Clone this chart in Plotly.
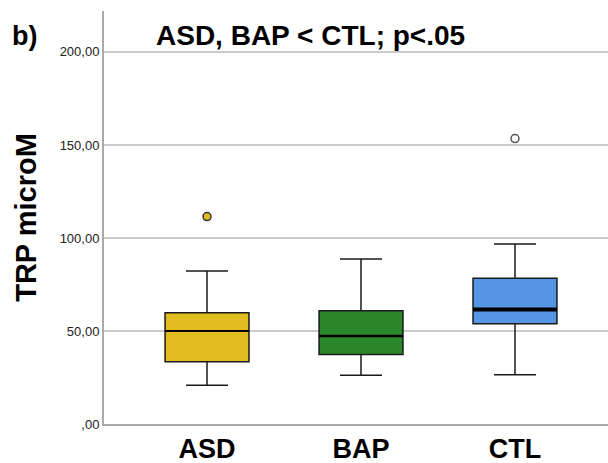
import plotly.graph_objects as go

# ---- data ----
groups = ["ASD", "BAP", "CTL"]
q1 = [33.5, 37.3, 53.9]
median = [50.0, 47.3, 61.6]
q3 = [59.8, 60.9, 78.3]
lower_whisker = [20.8, 26.2, 26.5]
upper_whisker = [82.3, 88.7, 96.8]
outlier_group = ["ASD", "CTL"]
outlier_value = [111.5, 153.4]
y_tick_values = [0, 50, 100, 150, 200]
y_tick_labels = [",00", "50,00", "100,00", "150,00", "200,00"]

# ---- styles ----
fill_colors = ["#E1BC20", "#2A882B", "#5697E5"]
median_widths = [2, 2.5, 4]
outlier_fill = ["#E1BC20", "white"]
outlier_line = ["#333333", "#555555"]
box_width = 0.545
FONT = "Liberation Sans, Arial, sans-serif"

pos = {g: i for i, g in enumerate(groups)}

fig = go.Figure()
for i, g in enumerate(groups):
    fig.add_trace(go.Box(
        x=[pos[g]], q1=[q1[i]], median=[median[i]], q3=[q3[i]],
        lowerfence=[lower_whisker[i]], upperfence=[upper_whisker[i]],
        width=box_width, whiskerwidth=0.5,
        fillcolor=fill_colors[i],
        line=dict(color="#1a1a1a", width=1.5),
        boxpoints=False, showlegend=False, hoverinfo="skip",
    ))
    fig.add_trace(go.Scatter(
        x=[pos[g] - box_width / 2, pos[g] + box_width / 2],
        y=[median[i], median[i]], mode="lines",
        line=dict(color="black", width=median_widths[i]),
        showlegend=False, hoverinfo="skip",
    ))

fig.add_trace(go.Scatter(
    x=[pos[g] for g in outlier_group], y=outlier_value, mode="markers",
    marker=dict(size=8, color=outlier_fill, line=dict(color=outlier_line, width=1.5)),
    showlegend=False, hoverinfo="skip",
))

fig.update_layout(
    width=608, height=463,
    margin=dict(l=104, r=0, t=11, b=39),
    plot_bgcolor="white", paper_bgcolor="white",
    font=dict(family=FONT, color="black"),
    xaxis=dict(
        range=[-0.669, 2.604], tickvals=list(range(len(groups))), ticktext=groups,
        tickfont=dict(size=27, family=FONT, weight="bold"),
        showgrid=False, zeroline=False, showline=True, linecolor="#aaaaaa", linewidth=2,
        ticks="", ticklen=0,
    ),
    yaxis=dict(
        range=[0, 222], tickvals=y_tick_values, ticktext=y_tick_labels,
        tickfont=dict(size=13, color="#222222"),
        showgrid=True, gridcolor="#cccccc", gridwidth=1.5, zeroline=False,
        showline=True, linecolor="#aaaaaa", linewidth=2, ticks="",
        title=dict(text="TRP microM", font=dict(size=29, weight="bold"), standoff=14),
    ),
    annotations=[
        dict(text="ASD, BAP < CTL; p<.05", x=154, y=36, xref="paper", yref="paper",
             showarrow=False, font=dict(size=28, weight="bold"), xanchor="left", yanchor="middle"),
        dict(text="b)", x=10, y=36, xref="paper", yref="paper",
             showarrow=False, font=dict(size=27, weight="bold"), xanchor="left", yanchor="middle"),
    ],
)

# convert annotation pixel positions to paper coords
pw, ph = 608 - 104, 463 - 11 - 39
for a in fig.layout.annotations:
    a.x = (a.x - 104) / pw
    a.y = (463 - 39 - a.y) / ph

fig.write_html("out.html")
